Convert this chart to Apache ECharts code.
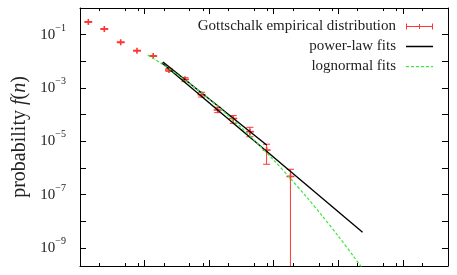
<!DOCTYPE html>
<html><head><meta charset="utf-8">
<script src="https://cdn.jsdelivr.net/npm/echarts@6/dist/echarts.min.js"></script>
<style>html,body{margin:0;padding:0;background:#fff}#c{width:457px;height:275px}</style>
</head><body><div id="c"></div>
<script>
// Empirical distribution (log-binned)
const binN        = [1.345, 2.38, 4.27, 7.63, 13.6, 23.9, 42.2, 76.5, 135.5, 236, 428, 776, 1815];
const probability = [0.30, 0.163, 0.0518, 0.0251, 0.0158, 0.00473, 0.00212, 5.6e-4, 1.5e-4, 7.2e-5, 2.3e-5, 4.7e-6, 4.8e-7];
const errLow      = [0.29, 0.158, 0.050, 0.0243, 0.0152, 0.0042, 0.00173, 4.6e-4, 1.19e-4, 4.75e-5, 1.49e-5, 1.38e-6, 0];
const errHigh     = [0.31, 0.168, 0.0535, 0.0259, 0.0164, 0.0054, 0.00244, 6.9e-4, 1.89e-4, 9.2e-5, 3.36e-5, 7.8e-6, 8.95e-7];
// Power-law fits (straight on log-log)
const powerA_n = [18.4, 23770];
const powerA_p = [8.9e-3, 3.89e-9];
const powerB_n = [19.3, 776];
const powerB_p = [9.44e-3, 7.3e-6];
// Lognormal fit curve
const logn_n = [11.2, 17.8, 31.6, 56.2, 100, 178, 316, 562, 1000, 1778, 3162, 5623, 10000, 17780, 25119];
const logn_p = [1.73e-2, 8.55e-3, 3.29e-3, 1.17e-3, 3.82e-4, 1.15e-4, 3.21e-5, 8.26e-6, 1.96e-6, 4.29e-7, 8.65e-8, 1.61e-8, 2.77e-9, 4.39e-10, 1.4e-10];
// Ticks
const xMajor = [10, 100, 1000, 10000, 100000];
const xMinor = [2, 5, 8, 20, 50, 80, 200, 500, 800, 2000, 5000, 8000, 20000, 50000, 80000, 200000];
const yTicks = [1e-9, 1e-8, 1e-7, 1e-6, 1e-5, 1e-4, 1e-3, 1e-2, 1e-1, 1];
const yLabels = [1e-9, 1e-7, 1e-5, 1e-3, 1e-1];

const SERIF = 'Liberation Serif';
const RED = '#ff3535';
const BLACK = '#000';
const GREEN = '#3be83b';
const zip = (a, b) => a.map((v, i) => [v, b[i]]);

function xAxisDef(pos, ticks, len, line) {
  return {
    type: 'log', min: 1, max: 5e5, position: pos,
    axisLine: { show: line, onZero: false, lineStyle: { color: '#000', width: 1 } },
    axisTick: { show: true, inside: true, length: len, customValues: ticks, lineStyle: { color: '#000', width: 1 } },
    axisLabel: { show: false }, splitLine: { show: false }
  };
}
function yAxisDef(pos, labels) {
  return {
    type: 'log', min: 2.11e-10, max: 1, position: pos,
    axisLine: { show: true, onZero: false, lineStyle: { color: '#000', width: 1 } },
    axisTick: { show: true, inside: true, length: 6, customValues: yTicks, lineStyle: { color: '#000', width: 1 } },
    axisLabel: labels ? {
      show: true, customValues: yLabels, margin: 14,
      formatter: v => '{b|10}{s|\u2212' + Math.round(-Math.log10(v)) + '}',
      rich: {
        b: { fontFamily: SERIF, fontSize: 15, color: '#222', verticalAlign: 'bottom', lineHeight: 15 },
        s: { fontFamily: SERIF, fontSize: 10, color: '#222', verticalAlign: 'bottom', lineHeight: 10, padding: [0, 0, 9, 0] }
      }
    } : { show: false },
    splitLine: { show: false },
    name: labels ? '{a|probability }{i|f}{a|(}{i|n}{a|)}' : '',
    nameLocation: 'middle', nameRotate: 90, nameGap: 50,
    nameTextStyle: {
      rich: {
        a: { fontFamily: SERIF, fontSize: 20, color: '#222' },
        i: { fontFamily: SERIF, fontSize: 20, fontStyle: 'italic', color: '#222' }
      }
    }
  };
}

function legendDef(name, top, icon, color) {
  return {
    data: [{ name, icon, itemStyle: { color, borderWidth: 0 } }],
    right: 19, top, orient: 'horizontal', align: 'right',
    itemWidth: 27, itemHeight: 7, selectedMode: false,
    textStyle: { fontFamily: SERIF, fontSize: 15, color: '#222', padding: [0, 5, 0, 0] }
  };
}

const ICON_ERR = 'path://M0,3h27v1h-27z M0,0.5h1v6h-1z M26,0.5h1v6h-1z M13,1h1v5h-1z';
const ICON_LINE = 'path://M0,2.8h27v1.4h-27z M0,0h0.01v7h-0.01z';
const ICON_DASH = 'path://M0,3h3v1.2h-3z M5,3h3v1.2h-3z M10,3h3v1.2h-3z M15,3h3v1.2h-3z M20,3h3v1.2h-3z M25,3h2v1.2h-2z M0,0h0.01v7h-0.01z';

const chart = echarts.init(document.getElementById('c'), null, { renderer: 'canvas' });
chart.setOption({
  animation: false,
  backgroundColor: '#fff',
  grid: { left: 80, right: 9, top: 8, bottom: 9, containLabel: false },
  xAxis: [
    xAxisDef('bottom', xMajor, 6, true),
    xAxisDef('top', xMajor, 6, true),
    xAxisDef('bottom', xMinor, 3, false),
    xAxisDef('top', xMinor, 3, false)
  ],
  yAxis: [yAxisDef('left', true), yAxisDef('right', false)],
  legend: [
    legendDef('Gottschalk empirical distribution', 14, ICON_ERR, RED),
    legendDef('power-law fits', 34, ICON_LINE, BLACK),
    legendDef('lognormal fits', 54, ICON_DASH, GREEN)
  ],
  series: [
    {
      name: 'Gottschalk empirical distribution', type: 'custom',
      xAxisIndex: 0, yAxisIndex: 0,
      itemStyle: { color: RED },
      encode: { x: 0, y: 1 },
      data: binN.map((n, i) => [n, probability[i], errLow[i], errHigh[i]]),
      renderItem(params, api) {
        const x = api.value(0), y = api.value(1), lo = api.value(2), hi = api.value(3);
        const cs = params.coordSys;
        const bottom = cs.y + cs.height;
        const p = api.coord([x, y]);
        const yHi = api.coord([x, hi])[1];
        const yLo = lo > 0 ? Math.min(api.coord([x, lo])[1], bottom) : bottom;
        const st = { stroke: RED, lineWidth: 1 };
        const st2 = { stroke: RED, lineWidth: 1.6 };
        const ch = [
          { type: 'line', shape: { x1: p[0], y1: yHi, x2: p[0], y2: yLo }, style: st },
          { type: 'line', shape: { x1: p[0] - 3.5, y1: yHi, x2: p[0] + 3.5, y2: yHi }, style: st },
          { type: 'line', shape: { x1: p[0] - 4, y1: p[1], x2: p[0] + 4, y2: p[1] }, style: st2 },
          { type: 'line', shape: { x1: p[0], y1: p[1] - 3, x2: p[0], y2: p[1] + 3 }, style: st2 }
        ];
        if (lo > 0) ch.push({ type: 'line', shape: { x1: p[0] - 3.5, y1: yLo, x2: p[0] + 3.5, y2: yLo }, style: st });
        return { type: 'group', children: ch };
      },
      z: 3
    },
    {
      name: 'power-law fits', type: 'line', xAxisIndex: 0, yAxisIndex: 0,
      data: zip(powerA_n, powerA_p), symbol: 'none', showSymbol: false,
      color: BLACK, lineStyle: { color: BLACK, width: 1.4 }, z: 4
    },
    {
      name: 'power-law fits', type: 'line', xAxisIndex: 0, yAxisIndex: 0,
      data: zip(powerB_n, powerB_p), symbol: 'none', showSymbol: false,
      color: BLACK, lineStyle: { color: BLACK, width: 1.4 }, z: 4
    },
    {
      name: 'lognormal fits', type: 'line', xAxisIndex: 0, yAxisIndex: 0,
      data: zip(logn_n, logn_p), symbol: 'none', showSymbol: false, smooth: 0.3,
      color: GREEN, lineStyle: { color: GREEN, width: 1.2, type: [3, 2] }, z: 5
    }
  ]
});
</script>
</body></html>
